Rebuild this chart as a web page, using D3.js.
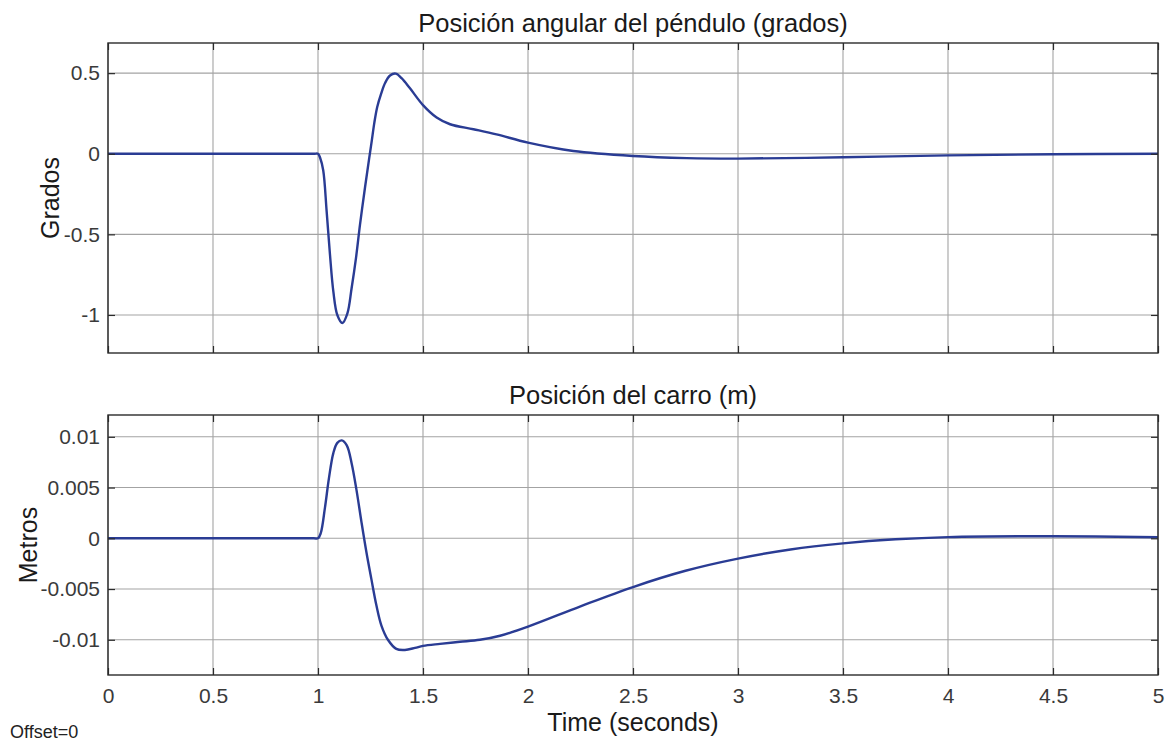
<!DOCTYPE html>
<html>
<head>
<meta charset="utf-8">
<script src="https://cdn.jsdelivr.net/npm/d3@7"></script>
<style>
  html, body { margin: 0; padding: 0; background: #fff; }
  svg { display: block; font-family: "Liberation Sans", Arial, Helvetica, sans-serif; }
</style>
</head>
<body>
<svg id="chart" width="1167" height="742"></svg>
<script>
// ---------------- data ----------------
const xTicks = [0, 0.5, 1, 1.5, 2, 2.5, 3, 3.5, 4, 4.5, 5];
const xTickLabels = ["0", "0.5", "1", "1.5", "2", "2.5", "3", "3.5", "4", "4.5", "5"];

const angleTicks = [-1, -0.5, 0, 0.5];
const angleTickLabels = ["-1", "-0.5", "0", "0.5"];

const cartTicks = [-0.01, -0.005, 0, 0.005, 0.01];
const cartTickLabels = ["-0.01", "-0.005", "0", "0.005", "0.01"];

// pendulum angle (degrees)
const angleTime = [0, 0.5, 0.98, 1.0, 1.01, 1.025, 1.041, 1.057, 1.073, 1.092, 1.116, 1.14, 1.16, 1.181, 1.2, 1.224, 1.243, 1.256, 1.268, 1.282, 1.3, 1.32, 1.343, 1.37, 1.398, 1.438, 1.5, 1.565, 1.629, 1.74, 1.85, 2.0, 2.216, 2.5, 2.756, 3.0, 3.5, 4.0, 4.5, 5.0];
const angleValues = [0, 0, 0, 0, -0.025, -0.104, -0.354, -0.625, -0.854, -1.0, -1.05, -0.99, -0.834, -0.646, -0.44, -0.208, -0.035, 0.08, 0.19, 0.29, 0.37, 0.44, 0.485, 0.497, 0.469, 0.406, 0.302, 0.225, 0.183, 0.152, 0.12, 0.069, 0.017, -0.014, -0.027, -0.03, -0.022, -0.01, -0.003, 0];

// cart position (m)
const cartTime = [0, 0.5, 0.98, 1.0, 1.013, 1.033, 1.052, 1.073, 1.092, 1.113, 1.137, 1.16, 1.183, 1.207, 1.23, 1.254, 1.278, 1.302, 1.333, 1.373, 1.414, 1.462, 1.5, 1.581, 1.676, 1.771, 1.867, 2.0, 2.25, 2.5, 2.75, 3.0, 3.25, 3.5, 3.75, 4.0, 4.5, 5.0];
const cartValues = [0, 0, 0, 0, 0.0005, 0.003, 0.0059, 0.0084, 0.0094, 0.00965, 0.00915, 0.0074, 0.0048, 0.0016, -0.0013, -0.004, -0.0066, -0.0086, -0.01, -0.0109, -0.011, -0.0108, -0.0106, -0.0104, -0.0102, -0.01, -0.0096, -0.0087, -0.0067, -0.0048, -0.0032, -0.002, -0.0011, -0.0005, -0.0001, 0.00012, 0.0002, 0.0001];

// ---------------- layout ----------------
const svg = d3.select("#chart");
const left = 108, right = 1158;
const tickLen = 7;
const lineColor = "#2a3c94";

const x = d3.scaleLinear().domain([0, 5]).range([left, right]);

function panel(cfg) {
  const y = d3.scaleLinear().domain(cfg.yDomain).range([cfg.bottom, cfg.top]);
  const g = svg.append("g");

  // grid
  g.append("g").selectAll("line").data(xTicks).join("line")
    .attr("x1", d => x(d)).attr("x2", d => x(d))
    .attr("y1", cfg.top).attr("y2", cfg.bottom)
    .attr("stroke", "#a3a3a3").attr("stroke-width", 1.1);
  g.append("g").selectAll("line").data(cfg.yTicks).join("line")
    .attr("x1", left).attr("x2", right)
    .attr("y1", d => y(d)).attr("y2", d => y(d))
    .attr("stroke", "#a3a3a3").attr("stroke-width", 1.1);

  // data line
  const line = d3.line().x((d, i) => x(cfg.t[i])).y(d => y(d)).curve(d3.curveCatmullRom.alpha(0.5));
  g.append("path").datum(cfg.v)
    .attr("d", line)
    .attr("fill", "none")
    .attr("stroke", lineColor)
    .attr("stroke-width", 2.4)
    .attr("stroke-linejoin", "round");

  // axes (inward ticks on all four sides)
  const fmtX = d => cfg.showXLabels ? xTickLabels[xTicks.indexOf(d)] : "";
  const fmtY = d => cfg.yLabels[cfg.yTicks.indexOf(d)];

  const ax = [
    g.append("g").attr("transform", `translate(0,${cfg.bottom})`)
      .call(d3.axisBottom(x).tickValues(xTicks).tickSize(-tickLen).tickPadding(13).tickFormat(fmtX)),
    g.append("g").attr("transform", `translate(0,${cfg.top})`)
      .call(d3.axisTop(x).tickValues(xTicks).tickSize(-tickLen).tickFormat("")),
    g.append("g").attr("transform", `translate(${left},0)`)
      .call(d3.axisLeft(y).tickValues(cfg.yTicks).tickSize(-tickLen).tickPadding(8).tickFormat(fmtY)),
    g.append("g").attr("transform", `translate(${right},0)`)
      .call(d3.axisRight(y).tickValues(cfg.yTicks).tickSize(-tickLen).tickFormat(""))
  ];
  ax.forEach(a => {
    a.select(".domain").remove();
    a.selectAll(".tick line").attr("stroke", "#2b2b2b").attr("stroke-width", 1.2);
    a.selectAll(".tick text")
      .attr("fill", "#3a3a3a")
      .style("font-size", "21px")
      .style("font-family", '"Liberation Sans", Arial, Helvetica, sans-serif');
  });

  // box
  g.append("rect")
    .attr("x", left).attr("y", cfg.top)
    .attr("width", right - left).attr("height", cfg.bottom - cfg.top)
    .attr("fill", "none").attr("stroke", "#2b2b2b").attr("stroke-width", 1.4);

  // title
  g.append("text")
    .attr("x", (left + right) / 2).attr("y", cfg.titleY)
    .attr("text-anchor", "middle")
    .attr("fill", "#1a1a1a")
    .style("font-size", "25.5px")
    .text(cfg.title);

  // y label
  g.append("text")
    .attr("transform", `translate(${cfg.yLabelX},${(cfg.top + cfg.bottom) / 2}) rotate(-90)`)
    .attr("text-anchor", "middle")
    .attr("fill", "#1a1a1a")
    .style("font-size", "25px")
    .text(cfg.yLabel);
}

panel({
  top: 43, bottom: 353,
  yDomain: [-1.236, 0.687],
  yTicks: angleTicks, yLabels: angleTickLabels,
  t: angleTime, v: angleValues,
  showXLabels: false,
  title: "Posición angular del péndulo (grados)", titleY: 32,
  yLabel: "Grados", yLabelX: 59
});

panel({
  top: 415, bottom: 675,
  yDomain: [-0.01347, 0.01215],
  yTicks: cartTicks, yLabels: cartTickLabels,
  t: cartTime, v: cartValues,
  showXLabels: true,
  title: "Posición del carro (m)", titleY: 404,
  yLabel: "Metros", yLabelX: 37
});

svg.append("text")
  .attr("x", (left + right) / 2).attr("y", 731)
  .attr("text-anchor", "middle")
  .attr("fill", "#1a1a1a")
  .style("font-size", "25px")
  .text("Time (seconds)");

svg.append("text")
  .attr("x", 10).attr("y", 738)
  .attr("fill", "#222")
  .style("font-size", "18px")
  .text("Offset=0");
</script>
</body>
</html>
